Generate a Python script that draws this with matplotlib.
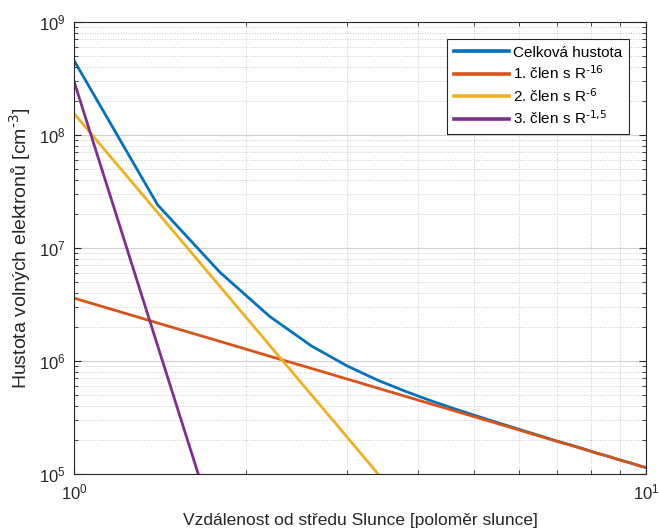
import numpy as np
import matplotlib
matplotlib.use("Agg")
from matplotlib import pyplot as plt
from matplotlib.ticker import LogLocator, NullFormatter

plt.rcParams['font.family'] = ['Liberation Sans', 'DejaVu Sans']
plt.rcParams['mathtext.default'] = 'regular'

# vzdalenost od stredu Slunce [R_sun]
R = [1.0, 1.4, 1.8, 2.2, 2.6, 3.0, 3.4, 3.8, 4.2, 4.6, 5.0, 5.4,
     5.8, 6.2, 6.6, 7.0, 7.4, 7.8, 8.2, 8.6, 9.0, 9.4, 9.8, 10.0]

# celkova hustota [cm^-3]
n_total = [4.57e8, 2.41e7, 6.08e6, 2.47e6, 1.36e6, 9.06e5, 6.74e5, 5.38e5,
           4.46e5, 3.81e5, 3.32e5, 2.93e5, 2.62e5, 2.36e5, 2.14e5, 1.95e5,
           1.80e5, 1.66e5, 1.53e5, 1.43e5, 1.33e5, 1.25e5, 1.17e5, 1.14e5]
# jednotlive cleny
n_1 = [3.60e6, 2.17e6, 1.49e6, 1.10e6, 8.60e5, 6.93e5, 5.74e5, 4.86e5,
       4.18e5, 3.65e5, 3.22e5, 2.87e5, 2.58e5, 2.33e5, 2.12e5, 1.94e5,
       1.79e5, 1.65e5, 1.53e5, 1.43e5, 1.33e5, 1.25e5, 1.17e5, 1.14e5]
n_2 = [1.55e8, 2.06e7, 4.56e6, 1.37e6, 5.02e5, 2.13e5, 1.00e5, 5.15e4]
n_3 = [2.99e8, 1.37e6, 2.46e4]

labels = ['Celková hustota', r'1. člen s R$^{\text{-16}}$',
          r'2. člen s R$^{\text{-6}}$', r'3. člen s R$^{\text{-1,5}}$']
colors = ['#0072BD', '#D95319', '#EDB120', '#7E2F8E']

fig = plt.figure(figsize=(6.59, 5.30), dpi=100)
ax = fig.add_axes([0.1123, 0.1057, 0.868, 0.8528])

lw = 2.0
ax.loglog(R, n_total, color=colors[0], lw=lw, label=labels[0])
ax.loglog(R, n_1, color=colors[1], lw=lw, label=labels[1])
ax.loglog(R[:len(n_2)], n_2, color=colors[2], lw=lw, label=labels[2])
ax.loglog(R[:len(n_3)], n_3, color=colors[3], lw=lw, label=labels[3])

ax.set_xlim(1, 10)
ax.set_ylim(1e5, 1e9)

ax.xaxis.set_major_locator(LogLocator(base=10, numticks=5))
ax.xaxis.set_minor_locator(LogLocator(base=10, subs=np.arange(2, 10), numticks=10))
ax.xaxis.set_minor_formatter(NullFormatter())
ax.yaxis.set_major_locator(LogLocator(base=10, numticks=10))
ax.yaxis.set_minor_locator(LogLocator(base=10, subs=np.arange(2, 10), numticks=10))
ax.yaxis.set_minor_formatter(NullFormatter())

ax.grid(True, which='major', color='#d0d0d0', lw=0.8, ls='-')
ax.grid(True, which='minor', color='#c8c8c8', lw=0.7, ls=':')
ax.set_axisbelow(True)

ax.tick_params(which='both', direction='in', top=True, right=True,
               colors='#262626', labelsize=12, pad=6)
ax.tick_params(which='major', length=5, width=0.8)
ax.tick_params(which='minor', length=3, width=0.6)
for s in ax.spines.values():
    s.set_color('#262626')
    s.set_linewidth(0.8)

ax.set_xlabel('Vzdálenost od středu Slunce [poloměr slunce]', fontsize=12.5,
              color='#262626', labelpad=8)
ax.set_ylabel('Hustota volných elektronů [cm$^{\\text{-3}}$]', fontsize=14,
              color='#262626', labelpad=4)

leg = ax.legend(loc='upper right', fontsize=11, fancybox=False, framealpha=1,
                edgecolor='#262626', handlelength=3.6, handletextpad=0.3,
                borderpad=0.45, labelspacing=0.3, borderaxespad=1.1)
leg.get_frame().set_linewidth(0.8)
for h in leg.get_lines():
    h.set_linewidth(2.6)

fig.savefig('out.png', dpi=100)
